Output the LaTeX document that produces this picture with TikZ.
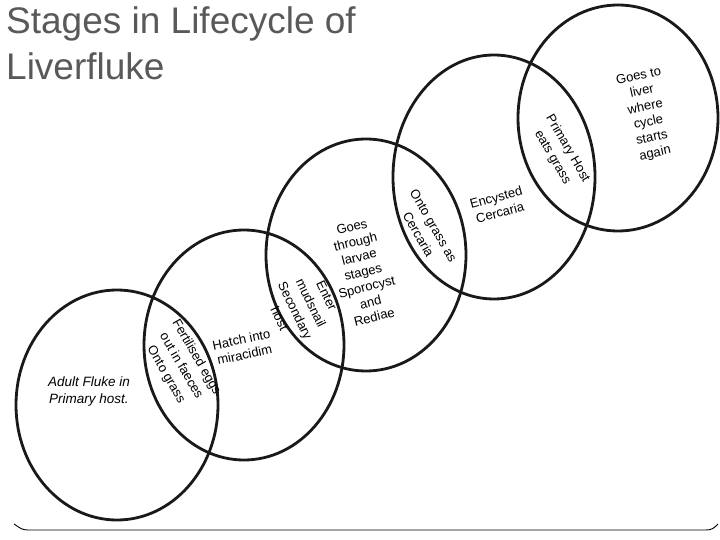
\documentclass[tikz,border=0pt]{standalone}
\usepackage{fontspec}
\setmainfont{Liberation Sans}
\usetikzlibrary{shapes.geometric}
\begin{document}
\begin{tikzpicture}[x=1pt,y=-1pt,
  ring/.style={draw=black!90,line width=2.8pt,ellipse,inner sep=0pt},
  lab/.style={font=\fontsize{13}{15.5}\selectfont,align=center,inner sep=0pt},
  slant/.style={lab,font=\fontsize{13}{17.5}\selectfont,rotate=-60}]
\useasboundingbox (0,0) rectangle (720,540);
\node[ring,minimum width=202pt,minimum height=230pt] (c1) at (117,405) {};
\node[ring,minimum width=200pt,minimum height=230pt] (c2) at (244,345) {};
\node[ring,minimum width=200pt,minimum height=232pt] (c3) at (366,255) {};
\node[ring,minimum width=202pt,minimum height=244pt] (c4) at (494,177) {};
\node[ring,minimum width=200pt,minimum height=226pt] (c5) at (618,118) {};
\node[anchor=north west,inner sep=0pt,text=black!65,align=left,
  font=\fontsize{37}{46}\selectfont] (title) at (6,6) {Stages in Lifecycle of\\Liverfluke};
\node[lab,font=\fontsize{13.5}{17}\selectfont\itshape] (t1) at (89,392) {Adult Fluke in\\Primary host.};
\node[slant] (t2) at (181,366) {Fertilised eggs\\out in faeces\\Onto grass};
\node[lab,rotate=12] (t3) at (243,347) {Hatch into\\miracidim};
\node[slant,rotate=-4] (t4) at (303,307) {Enter\\mudsnail\\Secondary\\host};
\node[lab,rotate=14] (t5) at (363,272) {Goes\\through\\larvae\\stages\\Sporocyst\\and\\Rediae};
\node[slant] (t6) at (426,230) {Onto grass as\\Cercaria};
\node[lab,rotate=15] (t7) at (498,205) {Encysted\\Cercaria};
\node[slant] (t8) at (560,153) {Primary Host\\eats grass};
\node[lab,rotate=12,font=\fontsize{13}{15.8}\selectfont] (t9) at (647,115) {Goes to\\liver\\where\\cycle\\starts\\again};
\coordinate (bl) at (14,524);
\coordinate (br) at (718,524);
\draw[line width=0.9pt] (bl) .. controls (20,528) and (22,530) .. (28,530) -- (706,530) .. controls (712,530) and (714,528) .. (br);
\end{tikzpicture}
\end{document}
